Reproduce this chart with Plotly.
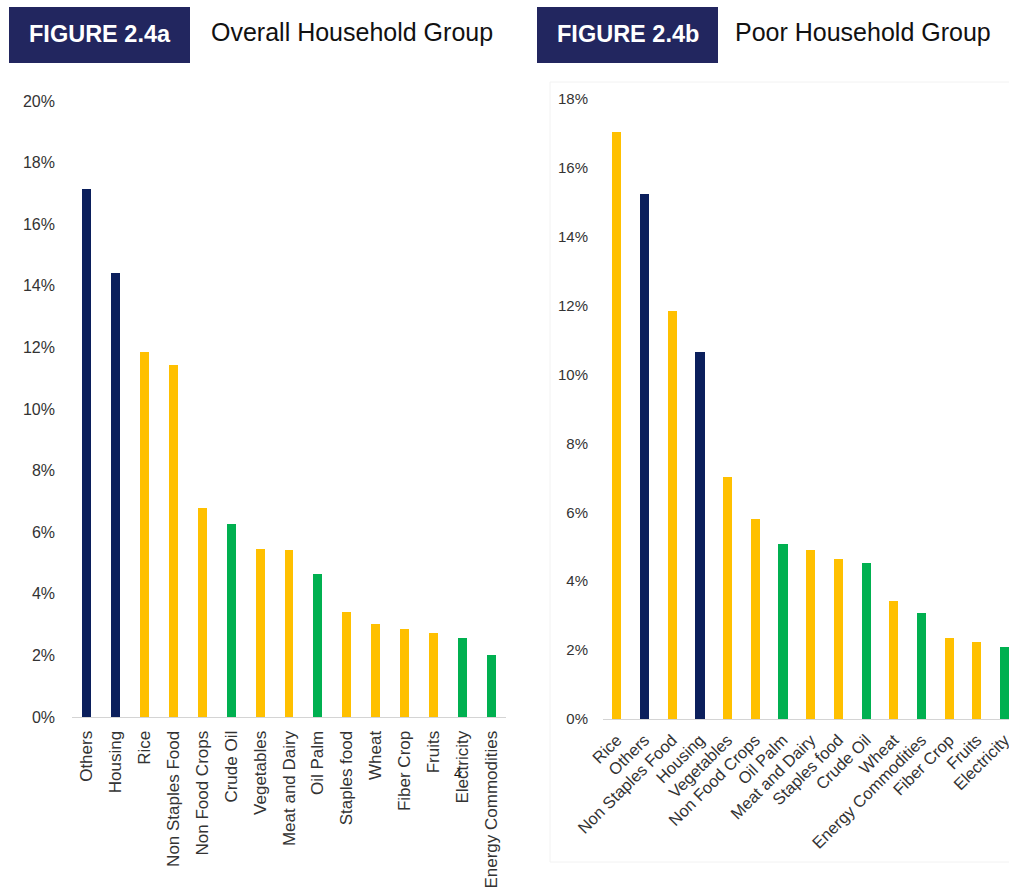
import plotly.graph_objects as go

W, H = 1009, 890

# Figure 2.4a – overall household group
overall_categories = ["Others", "Housing", "Rice", "Non Staples Food", "Non Food Crops",
                      "Crude Oil", "Vegetables", "Meat and Dairy", "Oil Palm", "Staples food",
                      "Wheat", "Fiber Crop", "Fruits", "Electricity", "Energy Commodities"]
overall_shares = [17.15, 14.42, 11.86, 11.43, 6.78, 6.26, 5.45, 5.42, 4.64, 3.40,
                  3.02, 2.87, 2.72, 2.58, 2.01]
overall_groups = ["other", "other", "food", "food", "food", "energy", "food", "food",
                  "energy", "food", "food", "food", "food", "energy", "energy"]

# Figure 2.4b – poor household group
poor_categories = ["Rice", "Others", "Non Staples Food", "Housing", "Vegetables",
                   "Non Food Crops", "Oil Palm", "Meat and Dairy", "Staples food", "Crude Oil",
                   "Wheat", "Energy Commodities", "Fiber Crop", "Fruits", "Electricity"]
poor_shares = [17.03, 15.25, 11.84, 10.66, 7.02, 5.81, 5.08, 4.90, 4.64, 4.54,
               3.43, 3.09, 2.36, 2.23, 2.08]
poor_groups = ["food", "other", "food", "other", "food", "food", "energy", "food",
               "food", "energy", "food", "energy", "food", "food", "energy"]

overall_ticks = [0, 2, 4, 6, 8, 10, 12, 14, 16, 18, 20]
overall_tick_labels = ["0%", "2%", "4%", "6%", "8%", "10%", "12%", "14%", "16%", "18%", "20%"]
poor_ticks = [0, 2, 4, 6, 8, 10, 12, 14, 16, 18]
poor_tick_labels = ["0%", "2%", "4%", "6%", "8%", "10%", "12%", "14%", "16%", "18%"]

GROUP_COLORS = {"other": "#0b1f5c", "food": "#ffc000", "energy": "#00b050"}
HEADER_BG = "#22265f"
FONT = "Liberation Sans, Arial, Helvetica, sans-serif"
TICK_COLOR = "#333333"


def px_x(x):
    return x / W


def px_y(y):
    return 1 - y / H


fig = go.Figure()

fig.add_trace(go.Bar(
    x=overall_categories, y=overall_shares,
    marker=dict(color=[GROUP_COLORS[g] for g in overall_groups], line=dict(width=0)),
    width=0.31, xaxis="x", yaxis="y", showlegend=False,
))
fig.add_trace(go.Bar(
    x=poor_categories, y=poor_shares,
    marker=dict(color=[GROUP_COLORS[g] for g in poor_groups], line=dict(width=0)),
    width=0.33, xaxis="x2", yaxis="y2", showlegend=False,
))

common_x = dict(
    type="category", showgrid=False, zeroline=False, ticks="", automargin=False,
    showline=True, linecolor="#d4d4d4", linewidth=1,
)
common_y = dict(
    showgrid=False, zeroline=False, showline=False, ticks="", automargin=False,
    tickmode="array",
)

fig.update_layout(
    template="none",
    width=W, height=H,
    margin=dict(l=0, r=0, t=0, b=0, pad=0),
    paper_bgcolor="white", plot_bgcolor="white",
    bargap=0,
    xaxis=dict(**common_x, domain=[px_x(72), px_x(506)], range=[-0.5, 14.5],
               tickangle=-90, anchor="y", ticklabelstandoff=6,
               tickfont=dict(family=FONT, size=17, color=TICK_COLOR)),
    yaxis=dict(**common_y, domain=[px_y(717), px_y(101)], range=[0, 20],
               tickvals=overall_ticks, ticktext=overall_tick_labels,
               anchor="x", ticklabelstandoff=16,
               tickfont=dict(family=FONT, size=16, color=TICK_COLOR)),
    xaxis2=dict(**common_x, domain=[px_x(603), 1.0], range=[-0.5, 14.16],
                tickangle=-45, anchor="y2", ticklabelstandoff=4,
                tickfont=dict(family=FONT, size=16.5, color=TICK_COLOR)),
    yaxis2=dict(**common_y, domain=[px_y(719), px_y(99)], range=[0, 18],
                tickvals=poor_ticks, ticktext=poor_tick_labels,
                anchor="x2", ticklabelstandoff=14,
                tickfont=dict(family=FONT, size=15, color=TICK_COLOR)),
)

shapes = [
    # header boxes
    dict(type="rect", xref="paper", yref="paper",
         x0=px_x(9), x1=px_x(190), y0=px_y(63), y1=px_y(7),
         fillcolor=HEADER_BG, line=dict(width=0), layer="below"),
    dict(type="rect", xref="paper", yref="paper",
         x0=px_x(537), x1=px_x(718), y0=px_y(63), y1=px_y(7),
         fillcolor=HEADER_BG, line=dict(width=0), layer="below"),
    # thin frame around the right-hand chart
    dict(type="rect", xref="paper", yref="paper",
         x0=px_x(550), x1=px_x(1020), y0=px_y(862), y1=px_y(82),
         fillcolor="rgba(0,0,0,0)", line=dict(width=1, color="#f2f2f2"), layer="below"),
]

annotations = [
    dict(text="<b>FIGURE 2.4a</b>", x=px_x(99.5), y=px_y(34), xref="paper", yref="paper",
         showarrow=False, xanchor="center", yanchor="middle",
         font=dict(family=FONT, size=23.5, color="white")),
    dict(text="Overall Household Group", x=px_x(209), y=px_y(32), xref="paper", yref="paper",
         showarrow=False, xanchor="left", yanchor="middle",
         font=dict(family=FONT, size=25, color="#111111")),
    dict(text="<b>FIGURE 2.4b</b>", x=px_x(627.5), y=px_y(34), xref="paper", yref="paper",
         showarrow=False, xanchor="center", yanchor="middle",
         font=dict(family=FONT, size=23.5, color="white")),
    dict(text="Poor Household Group", x=px_x(733), y=px_y(32), xref="paper", yref="paper",
         showarrow=False, xanchor="left", yanchor="middle",
         font=dict(family=FONT, size=25, color="#111111")),
    # stray page number printed over the left chart's labels
    dict(text="4", x=px_x(457), y=px_y(773), xref="paper", yref="paper",
         showarrow=False, xanchor="center", yanchor="middle",
         font=dict(family=FONT, size=13, color="#111111")),
]

fig.update_layout(shapes=shapes, annotations=annotations)

fig.write_html("out.html")
